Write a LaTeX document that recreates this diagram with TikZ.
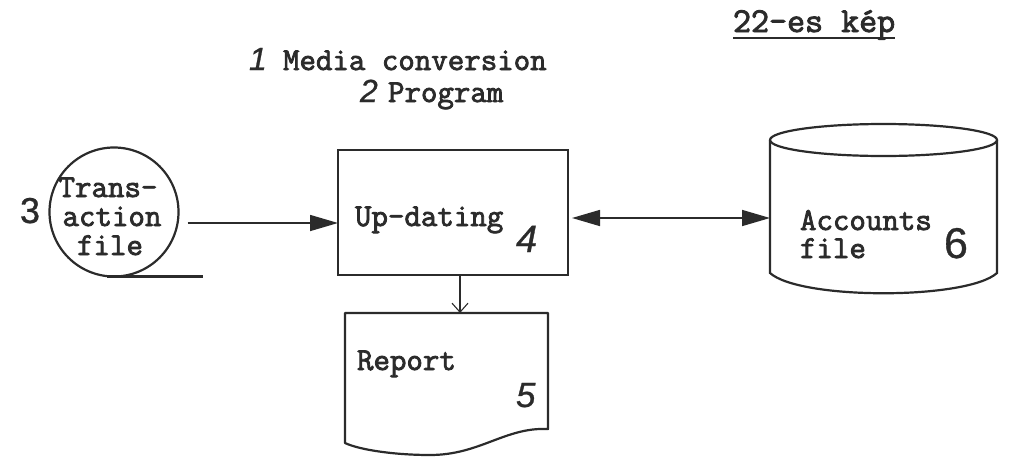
\documentclass[tikz,border=0pt]{standalone}
\usepackage{fontspec}
\setmonofont[FakeBold=2.5]{Latin Modern Mono}
\newfontfamily\handfont[FakeBold=0.8]{Liberation Sans}
\usetikzlibrary{arrows.meta}
\definecolor{ink}{HTML}{2B2B2B}

\begin{document}
\begin{tikzpicture}[x=1pt,y=-1pt,
  every node/.style={inner sep=0pt, outer sep=0pt, text=ink},
  outline/.style={draw=ink, line width=2.2pt},
  lbl/.style={font=\fontsize{32}{32}\selectfont\ttfamily, anchor=base west,
    text height=19pt, text depth=4pt},
  numup/.style={font=\fontsize{#1}{#1}\selectfont\handfont, anchor=base west},
  numit/.style={font=\fontsize{#1}{#1}\selectfont\handfont\itshape, anchor=base west},
  flow/.style={draw=ink, line width=1.6pt, -{Triangle[length=28pt,width=16pt]}},
  flowboth/.style={draw=ink, line width=1.6pt,
    {Triangle[length=28pt,width=16pt]}-{Triangle[length=28pt,width=16pt]}},
  thinflow/.style={draw=ink, line width=1.1pt, -{Straight Barb[length=9pt,width=16pt]}}
]
\useasboundingbox (0,0) rectangle (1014,458);

% symbols
\node[circle, outline, minimum size=129pt] (trans) at (114,212) {};
\node[rectangle, outline, minimum width=230pt, minimum height=125pt] (upd) at (453,212.5) {};
\node[minimum width=203pt, minimum height=142pt] (rep) at (446.5,384) {};
\node[minimum width=227pt, minimum height=171pt] (acc) at (883.5,209.5) {};

% tape tail of the transaction file
\draw[outline] ([xshift=-7pt]trans.south) -- ([xshift=89pt]trans.south);

% report (document symbol)
\draw[outline, line join=round] (345,443) -- (345,313) -- (548,313) -- (548,429)
  .. controls (505,427) and (480,455) .. (430,455)
  .. controls (395,455) and (360,450) .. cycle;

% accounts file (disk cylinder)
\draw[outline] (770,140) -- (770,273) .. controls (800,300) and (967,300) .. (997,273) -- (997,140);
\draw[outline] (883.5,140) ellipse [x radius=113.5pt, y radius=16pt];

% connectors
\coordinate (rowT) at (0,223);
\coordinate (rowA) at (0,218);
\coordinate (colR) at (460,0);
\draw[flow] ([xshift=9pt]trans.east |- rowT) -- (upd.west |- rowT);
\draw[flowboth] ([xshift=4pt]upd.east |- rowA) -- (acc.west |- rowA);
\draw[thinflow] (upd.south -| colR) -- (rep.north -| colR);

% typed labels
\node[lbl, font=\fontsize{35}{35}\selectfont\ttfamily] (title) at (733,32) {22-es kép};
\draw[ink, line width=1.6pt] ([yshift=-6pt]title.base west) -- ([yshift=-6pt]title.base east);
\node[lbl] (mc) at (283,70) {Media conversion};
\node[lbl] (prog) at (388,102) {Program};
\node[lbl, anchor=base] (tr1) at (108,197) {Trans-};
\node[lbl, anchor=base] (tr2) at (112,226) {action};
\node[lbl, anchor=base] (tr3) at (110,255) {file};
\node[lbl] (updt) at (355,226) {Up-dating};
\node[lbl] (rept) at (357,370) {Report};
\node[lbl] (acc1) at (800,230) {Accounts};
\node[lbl] (acc2) at (800,258) {file};

% handwritten numbers
\node[numit=32] (n1) at (249,70) {1};
\node[numit=32] (n2) at (360,102) {2};
\node[numup=36] (n3) at (20,223) {3};
\node[numit=38] (n4) at (516,252) {4};
\node[numit=35] (n5) at (516,407) {5};
\node[numup=43] (n6) at (944,258) {6};
\end{tikzpicture}
\end{document}
